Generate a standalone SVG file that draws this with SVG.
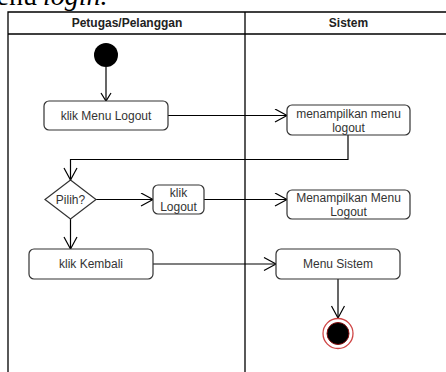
<svg xmlns="http://www.w3.org/2000/svg" width="446" height="372" viewBox="0 0 446 372">
  <style>
    .lane { fill: none; stroke: #000; stroke-width: 1.3; }
    .act { fill: #fff; stroke: #333; stroke-width: 1.2; }
    .lbl { font-family: "Liberation Sans", Arial, sans-serif; font-size: 12px; fill: #333; text-anchor: middle; }
    .hdr { font-family: "Liberation Sans", Arial, sans-serif; font-size: 12px; font-weight: bold; fill: #222; text-anchor: middle; }
    .flow { fill: none; stroke: #000; stroke-width: 1.2; }
    .cap { font-family: "Liberation Serif", "Times New Roman", serif; font-size: 28px; fill: #000; }
  </style>
  <defs>
    <marker id="open" markerUnits="userSpaceOnUse" markerWidth="16" markerHeight="16" refX="13" refY="7" orient="auto">
      <path d="M1,0.5 L13,7 L1,13.5" fill="none" stroke="#000" stroke-width="1.2"/>
    </marker>
    <marker id="openSmall" markerUnits="userSpaceOnUse" markerWidth="12" markerHeight="12" refX="9" refY="5.5" orient="auto">
      <path d="M1,0.5 L9,5.5 L1,10.5" fill="none" stroke="#000" stroke-width="1.2"/>
    </marker>
  </defs>

  <rect width="446" height="372" fill="#fff"/>

  <!-- running text above the figure -->
  <text class="cap" x="37" y="5" text-anchor="end">menu</text>
  <text class="cap" x="43" y="5" font-style="italic">login.</text>

  <!-- swimlane frame -->
  <g id="lanes">
    <path class="lane" d="M8,372 V12 H452 M8,34 H452 M245,12 V372"/>
    <text class="hdr" x="127" y="27">Petugas/Pelanggan</text>
    <text class="hdr" x="348.5" y="27">Sistem</text>
  </g>

  <!-- control flow -->
  <g id="connectors">
    <path class="flow" d="M106,67 V101" marker-end="url(#openSmall)"/>
    <path class="flow" d="M168,115.5 H287" marker-end="url(#open)"/>
    <path class="flow" d="M348,135 V159.5 H70.5 V180" marker-end="url(#open)"/>
    <path class="flow" d="M96,199.5 H153" marker-end="url(#open)"/>
    <path class="flow" d="M204,199.5 H287" marker-end="url(#open)"/>
    <path class="flow" d="M70.5,219 V249" marker-end="url(#open)"/>
    <path class="flow" d="M153,264 H276" marker-end="url(#open)"/>
    <path class="flow" d="M338,279 V318" marker-end="url(#open)"/>
  </g>

  <g id="start">
    <circle cx="106" cy="55" r="12" fill="#000"/>
  </g>

  <g id="klikMenuLogout">
    <rect class="act" x="44" y="101" width="124" height="29" rx="5"/>
    <text class="lbl" x="106" y="119.5">klik Menu Logout</text>
  </g>

  <g id="menampilkanMenuLogout">
    <rect class="act" x="287" y="105" width="123" height="30" rx="5"/>
    <text class="lbl" x="348.5" y="118">menampilkan menu</text>
    <text class="lbl" x="348.5" y="132">logout</text>
  </g>

  <g id="pilih">
    <polygon class="act" points="70.5,180 96,199.5 70.5,219 45,199.5"/>
    <text class="lbl" x="70.5" y="203.5">Pilih?</text>
  </g>

  <g id="klikLogout">
    <rect class="act" x="153" y="185" width="51" height="29" rx="5"/>
    <text class="lbl" x="178.5" y="197">klik</text>
    <text class="lbl" x="178.5" y="211">Logout</text>
  </g>

  <g id="menampilkanMenuLogout2">
    <rect class="act" x="287" y="190" width="123" height="29" rx="5"/>
    <text class="lbl" x="348.5" y="202">Menampilkan Menu</text>
    <text class="lbl" x="348.5" y="216">Logout</text>
  </g>

  <g id="klikKembali">
    <rect class="act" x="29" y="249" width="124" height="30" rx="5"/>
    <text class="lbl" x="91" y="268">klik Kembali</text>
  </g>

  <g id="menuSistem">
    <rect class="act" x="276" y="249" width="124" height="30" rx="5"/>
    <text class="lbl" x="338" y="268">Menu Sistem</text>
  </g>

  <g id="end">
    <circle cx="338" cy="333.5" r="15" fill="#fff" stroke="#d04545" stroke-width="1.3"/>
    <circle cx="338" cy="333.5" r="11" fill="#000" stroke="#8a1010" stroke-width="1"/>
  </g>
</svg>
